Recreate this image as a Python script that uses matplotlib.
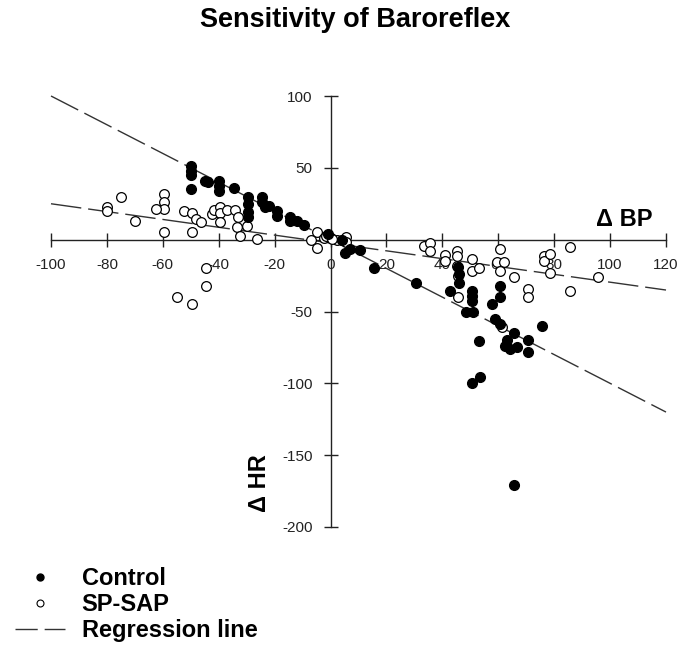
import matplotlib
matplotlib.use("Agg")
import matplotlib.pyplot as plt
from matplotlib.lines import Line2D
import numpy as np

plt.rcParams["font.family"] = ["Liberation Sans", "DejaVu Sans"]
plt.rcParams["axes.unicode_minus"] = False

# Control group (filled markers)
control_x = [-50, -50, -50, -50, -45, -43.8, -40, -40, -40, -34.5,
             -29.5, -29.5, -29.5, -29.5, -24.5, -24.5, -23.5, -22, -19.3, -19.3,
             -14.5, -14.5, -12, -9.5, -1, 4, 5, 7, 10.7, 15.5,
             30.7, 42.6, 45.5, 45.8, 45.8, 50.6, 50.6, 50.6, 48.5, 51,
             57.7, 60.7, 60.7, 59, 60.7, 65.7, 75.6, 70.8, 70.8, 63,
             62.5, 64.3, 66.7, 53, 53.6, 50.6, 65.7]
control_y = [51, 48, 45, 35, 40.5, 40, 41, 37.5, 34, 36,
             30, 25, 19.5, 15.5, 30, 26, 23, 23.5, 20, 16.7,
             16, 13, 13, 10.5, 4, 0, -9.5, -6.5, -7, -20,
             -30, -35.4, -19, -24, -30, -35.4, -39, -43, -50, -50,
             -44.7, -32, -40, -55, -58.6, -65, -60.4, -70, -78, -70,
             -74, -76, -75, -70.5, -95.6, -100, -171]

# SP-SAP group (open markers)
sap_x = [-80, -80, -75, -70, -59.5, -59.5, -59.5, -62.5, -59.5, -52.4,
         -49.5, -49.5, -48, -46.4, -44.6, -44.6, -54.8, -49.4, -42.3, -41.7,
         -39.5, -39.5, -39.5, -37, -34.3, -33, -33.6, -32.4, -29.8, -26.4,
         -4.8, -7.1, -4.8, -2.4, 0, 2.4, 4, -1.8, 0.6, 5.4,
         5.4, 33.3, 35.5, 35.7, 41, 41, 45.2, 45.2, 45.2, 45.5,
         45.5, 50.6, 50.6, 53, 60.7, 59.5, 61.9, 60.7, 65.5, 61.3,
         70.8, 70.8, 76.2, 76.2, 78.6, 78.6, 85.7, 85.7, 95.8]
sap_y = [22.5, 20, 30, 13, 31.5, 26, 21, 21, 5.5, 20,
         18.3, 5.5, 14.5, 12, -20, -32, -40, -44.7, 17.8, 20.5,
         23, 18.5, 12, 20.6, 20.6, 15.5, 8.6, 2.8, 9.7, 0.5,
         5, 0, -5.8, 1.2, 1, 0, 0, 2.8, 0.7, 1.6,
         -1.9, -4.2, -2.6, -7.6, -11, -14.6, -7.6, -11.1, -18, -25,
         -40, -13.4, -21.5, -19.6, -6.5, -15.7, -15.7, -21.5, -25.7, -60.9,
         -34, -40, -11.1, -15, -10, -23, -5, -35.4, -26.2]

# regression lines
reg_slope = [-1.0, -0.273]
reg_intercept = [0.0, -2.3]
reg_x_range = [-100, 120]

x_ticks = [-100, -80, -60, -40, -20, 0, 20, 40, 60, 80, 100, 120]
y_ticks = [100, 50, -50, -100, -150, -200]

legend_labels = ["Control", "SP-SAP", "Regression line"]


def main():
    fig = plt.figure(figsize=(6.84, 6.52), dpi=100)
    ax = fig.add_axes([51 / 684, 1 - 527 / 652, 615 / 684, 431 / 652])
    ax.set_xlim(-100, 120)
    ax.set_ylim(-200, 100)

    xs = np.array(reg_x_range, dtype=float)
    for m, b in zip(reg_slope, reg_intercept):
        ax.plot(xs, m * xs + b, color="#333333", lw=1.0,
                linestyle=(0, (22, 5)), zorder=2, clip_on=False)

    ax.plot(sap_x, sap_y, "o", ms=7, mfc="white", mec="black", mew=0.9,
            zorder=3, clip_on=False)
    ax.plot(control_x, control_y, "o", ms=7, mfc="black", mec="black",
            zorder=4, clip_on=False)

    # axes crossing at the origin
    for side in ["top", "right"]:
        ax.spines[side].set_visible(False)
    ax.spines["left"].set_position(("data", 0))
    ax.spines["bottom"].set_position(("data", 0))
    for side in ["left", "bottom"]:
        ax.spines[side].set_color("#222222")
        ax.spines[side].set_linewidth(1.0)

    ax.set_xticks(x_ticks)
    ax.set_yticks(y_ticks)
    ax.tick_params(axis="both", direction="inout", length=10, width=1.0,
                   color="#222222", labelsize=11, labelcolor="#222222", pad=8)

    ax.set_xlabel("Δ BP", fontsize=17, fontweight="bold")
    ax.xaxis.set_label_coords(0.9317, 0.7146)
    ax.xaxis.label.set_va("center")
    ax.set_ylabel("Δ HR", fontsize=17, fontweight="bold")
    ax.yaxis.set_label_coords(0.3398, 0.102)
    ax.yaxis.label.set_va("center")
    ax.yaxis.label.set_ha("center")

    fig.text(355 / 684, 1 - 20 / 652, "Sensitivity of Baroreflex",
             fontsize=19.5, fontweight="bold", ha="center", va="center")

    handles = [
        Line2D([], [], ls="none", marker="o", ms=5, mfc="black", mec="black"),
        Line2D([], [], ls="none", marker="o", ms=5, mfc="white", mec="black", mew=0.8),
        Line2D([], [], color="#333333", lw=1.0, linestyle=(0, (16, 5))),
    ]
    fig.legend(handles, legend_labels, loc="upper left",
               bbox_to_anchor=(15 / 684, 1 - 567 / 652),
               frameon=False, borderpad=0, borderaxespad=0,
               handlelength=2.1, handletextpad=0.72, labelspacing=0.13,
               prop={"size": 17, "weight": "bold"})

    fig.savefig("out.png", dpi=100)
    plt.close(fig)


if __name__ == "__main__":
    main()
